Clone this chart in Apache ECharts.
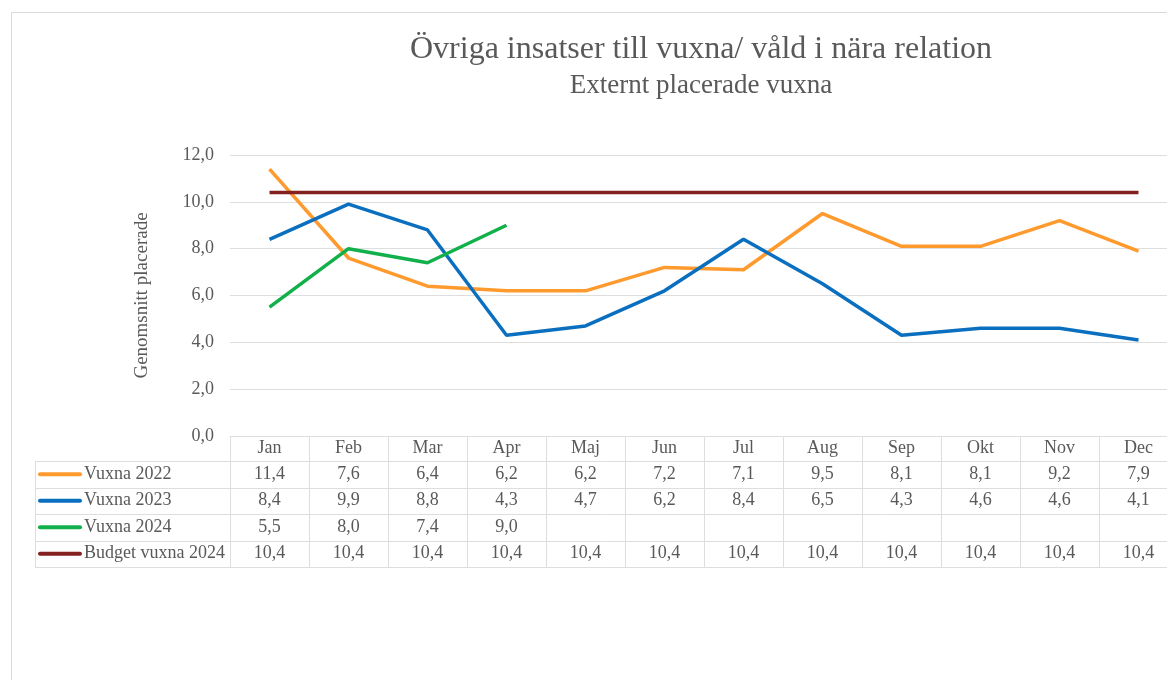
<!DOCTYPE html>
<html>
<head>
<meta charset="utf-8">
<script src="https://cdn.jsdelivr.net/npm/echarts@6/dist/echarts.min.js"></script>
<style>
  html, body { margin: 0; padding: 0; background: #fff; }
  #chart { width: 1167px; height: 680px; }
</style>
</head>
<body>
<div id="chart"></div>
<script>
// data
var months = ['Jan', 'Feb', 'Mar', 'Apr', 'Maj', 'Jun', 'Jul', 'Aug', 'Sep', 'Okt', 'Nov', 'Dec'];
var vuxna2022 = [11.4, 7.6, 6.4, 6.2, 6.2, 7.2, 7.1, 9.5, 8.1, 8.1, 9.2, 7.9];
var vuxna2023 = [8.4, 9.9, 8.8, 4.3, 4.7, 6.2, 8.4, 6.5, 4.3, 4.6, 4.6, 4.1];
var vuxna2024 = [5.5, 8.0, 7.4, 9.0, null, null, null, null, null, null, null, null];
var budget2024 = [10.4, 10.4, 10.4, 10.4, 10.4, 10.4, 10.4, 10.4, 10.4, 10.4, 10.4, 10.4];

var seriesDefs = [
  { name: 'Vuxna 2022', data: vuxna2022, color: '#ff9a2e' },
  { name: 'Vuxna 2023', data: vuxna2023, color: '#0b6fc0' },
  { name: 'Vuxna 2024', data: vuxna2024, color: '#12b04a' },
  { name: 'Budget vuxna 2024', data: budget2024, color: '#832020' }
];

var FONT = '"Liberation Serif", "DejaVu Serif", serif';
var TXT = '#595959';
var GRIDC = '#dedede';

var chart = echarts.init(document.getElementById('chart'));

function fmt(v) {
  return v == null ? '' : v.toFixed(1).replace('.', ',');
}

var option = {
  animation: false,
  grid: { left: 230, top: 155, width: 948, height: 281, outerBoundsMode: 'none', containLabel: false },
  xAxis: {
    type: 'category',
    data: months,
    boundaryGap: true,
    axisLine: { lineStyle: { color: GRIDC, width: 1 } },
    axisTick: { show: true, length: 131, inside: false, lineStyle: { color: GRIDC } },
    axisLabel: { color: TXT, fontFamily: FONT, fontSize: 18, margin: 3 }
  },
  yAxis: {
    type: 'value',
    min: 0, max: 12, interval: 2,
    name: 'Genomsnitt placerade',
    nameLocation: 'middle',
    nameGap: 78,
    nameRotate: 90,
    nameTextStyle: { color: TXT, fontFamily: FONT, fontSize: 19 },
    axisLine: { show: false },
    axisTick: { show: false },
    axisLabel: { color: TXT, fontFamily: FONT, fontSize: 18, margin: 16, formatter: function (v) { return fmt(v); } },
    splitLine: { lineStyle: { color: GRIDC, width: 1 } }
  },
  series: seriesDefs.map(function (s) {
    return {
      name: s.name,
      type: 'line',
      data: s.data,
      symbol: 'none',
      connectNulls: false,
      lineStyle: { color: s.color, width: 3.5 },
      itemStyle: { color: s.color }
    };
  })
};
chart.setOption(option);

// data table under the plot
var rowTop = 461, rowH = 26.5;
var tableLeft = 35, tableRight = 1178;
var graphics = [];

// outer chart border
graphics.push({ type: 'rect', shape: { x: 11.5, y: 12.5, width: 1200, height: 700 }, style: { fill: null, stroke: '#d9d9d9', lineWidth: 1 }, silent: true });

// title
graphics.push({ type: 'text', x: 701, y: 50, style: { text: 'Övriga insatser till vuxna/ våld i nära relation', font: '32px ' + FONT, fill: TXT, textAlign: 'center', textVerticalAlign: 'middle' } });
graphics.push({ type: 'text', x: 701, y: 86, style: { text: 'Externt placerade vuxna', font: '27px ' + FONT, fill: TXT, textAlign: 'center', textVerticalAlign: 'middle' } });

for (var r = 0; r <= seriesDefs.length; r++) {
  var y = Math.round(rowTop + r * rowH) + 0.5;
  graphics.push({ type: 'line', shape: { x1: tableLeft, y1: y, x2: tableRight, y2: y }, style: { stroke: GRIDC, lineWidth: 1 }, silent: true });
}
graphics.push({ type: 'line', shape: { x1: tableLeft + 0.5, y1: rowTop, x2: tableLeft + 0.5, y2: rowTop + 4 * rowH }, style: { stroke: GRIDC, lineWidth: 1 }, silent: true });

seriesDefs.forEach(function (s, r) {
  var cy = rowTop + r * rowH + rowH / 2;
  graphics.push({ type: 'line', shape: { x1: 40, y1: cy, x2: 80, y2: cy }, style: { stroke: s.color, lineWidth: 4, lineCap: 'round' }, silent: true });
  graphics.push({ type: 'text', x: 84, y: cy, style: { text: s.name, font: '18px ' + FONT, fill: TXT, textVerticalAlign: 'middle' } });
  s.data.forEach(function (v, i) {
    if (v == null) return;
    var cx = chart.convertToPixel({ xAxisIndex: 0 }, i);
    graphics.push({ type: 'text', x: cx, y: cy, style: { text: fmt(v), font: '18px ' + FONT, fill: TXT, textAlign: 'center', textVerticalAlign: 'middle' } });
  });
});

chart.setOption({ graphic: graphics });
</script>
</body>
</html>
